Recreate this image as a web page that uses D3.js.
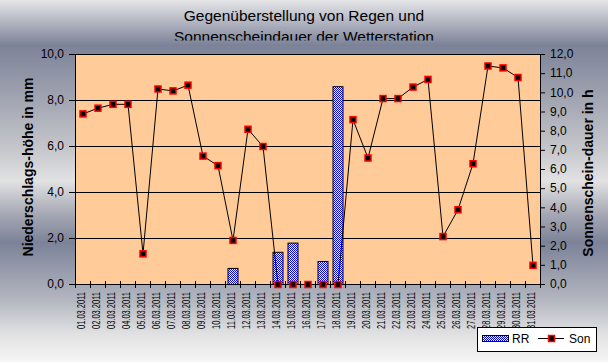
<!DOCTYPE html>
<html>
<head>
<meta charset="utf-8">
<script src="https://cdn.jsdelivr.net/npm/d3@7"></script>
<style>
  body { margin: 0; }
  svg { display: block; font-family: Arial, "Liberation Sans", sans-serif; }
</style>
</head>
<body>
<svg id="chart" width="608" height="362"></svg>
<script>
"use strict";

const dates = [
    "01.03.2011", "02.03.2011", "03.03.2011", "04.03.2011", "05.03.2011",
    "06.03.2011", "07.03.2011", "08.03.2011", "09.03.2011", "10.03.2011",
    "11.03.2011", "12.03.2011", "13.03.2011", "14.03.2011", "15.03.2011",
    "16.03.2011", "17.03.2011", "18.03.2011", "19.03.2011", "20.03.2011",
    "21.03.2011", "22.03.2011", "23.03.2011", "24.03.2011", "25.03.2011",
    "26.03.2011", "27.03.2011", "28.03.2011", "29.03.2011", "30.03.2011",
    "31.03.2011"
];

// Niederschlag (mm)
const rr = [0, 0, 0, 0, 0, 0, 0, 0, 0, 0, 0.7, 0, 0, 1.4, 1.8, 0, 1.0, 8.6,
    0, 0, 0, 0, 0, 0, 0, 0, 0, 0, 0, 0, 0];

// Sonnenscheindauer (h)
const son = [8.9, 9.2, 9.4, 9.4, 1.6, 10.2, 10.1, 10.4, 6.7, 6.2, 2.3, 8.1, 7.2,
    0, 0, 0, 0, 0, 8.6, 6.6, 9.7, 9.7, 10.3, 10.7, 2.5, 3.9, 6.3, 11.4, 11.3, 10.8, 1.0];

const leftTicks = [0, 2, 4, 6, 8, 10];
const rightTicks = [0, 1, 2, 3, 4, 5, 6, 7, 8, 9, 10, 11, 12];

const titleLines = ["Gegenüberstellung von Regen und", "Sonnenscheindauer der Wetterstation"];
const legendNames = ["RR", "Son"];

const plot = {left: 75, right: 540, top: 54, bottom: 284};

const svg = d3.select("#chart");
const defs = svg.append("defs");

// background gradient
const grad = defs.append("linearGradient")
    .attr("id", "bg")
    .attr("x1", 0).attr("y1", 0).attr("x2", 0).attr("y2", 1);
[
    [0, "#e6e6e8"], [0.125, "#7c8298"], [0.3, "#a8abb6"], [0.42, "#c8c9cd"],
    [0.5, "#e2e2e3"], [0.59, "#a6a9b4"], [0.67, "#7c8298"], [0.83, "#b4b7c0"],
    [0.92, "#e0e0e2"], [1, "#f6f6f6"]
].forEach(function(s) {
    grad.append("stop").attr("offset", s[0]).attr("stop-color", s[1]);
});

// checkered bar pattern
const pat = defs.append("pattern")
    .attr("id", "checker")
    .attr("width", 2).attr("height", 2)
    .attr("patternUnits", "userSpaceOnUse");
pat.append("rect").attr("width", 2).attr("height", 2).attr("fill", "#ffffff");
pat.append("rect").attr("width", 1).attr("height", 1).attr("fill", "#0000ff");
pat.append("rect").attr("x", 1).attr("y", 1).attr("width", 1).attr("height", 1).attr("fill", "#0000ff");

defs.append("clipPath").attr("id", "titleClip")
    .append("rect").attr("x", 0).attr("y", 0).attr("width", 608).attr("height", 40.5);

svg.append("rect")
    .attr("width", 608).attr("height", 362)
    .attr("fill", "url(#bg)");

// scales
const x = d3.scaleBand()
    .domain(dates)
    .range([plot.left, plot.right])
    .paddingInner(1 / 3)
    .paddingOuter(1 / 6);

const yL = d3.scaleLinear().domain([0, 10]).range([plot.bottom, plot.top]);
const yR = d3.scaleLinear().domain([0, 12]).range([plot.bottom, plot.top]);

const fmt = function(v) { return d3.format(".1f")(v).replace(".", ","); };

// plot area
svg.append("rect")
    .attr("x", plot.left).attr("y", plot.top)
    .attr("width", plot.right - plot.left).attr("height", plot.bottom - plot.top)
    .attr("fill", "#ffcc99");

// gridlines
svg.append("g")
    .selectAll("line")
    .data(leftTicks.filter(function(d) { return d > 0 && d < 10; }))
    .enter().append("line")
    .attr("x1", plot.left).attr("x2", plot.right)
    .attr("y1", function(d) { return yL(d) + 0.5; })
    .attr("y2", function(d) { return yL(d) + 0.5; })
    .attr("stroke", "#000").attr("stroke-width", 1);

// bars
svg.append("g")
    .selectAll("rect")
    .data(dates.map(function(d, i) { return {date: d, v: rr[i]}; }).filter(function(d) { return d.v > 0; }))
    .enter().append("rect")
    .attr("x", function(d) { return x(d.date) + 0.5; })
    .attr("y", function(d) { return yL(d.v) + 0.5; })
    .attr("width", x.bandwidth())
    .attr("height", function(d) { return yL(0) - yL(d.v); })
    .attr("fill", "url(#checker)")
    .attr("stroke", "#000").attr("stroke-width", 1);

// plot border
svg.append("rect")
    .attr("x", plot.left + 0.5).attr("y", plot.top + 0.5)
    .attr("width", plot.right - plot.left).attr("height", plot.bottom - plot.top)
    .attr("fill", "none").attr("stroke", "#000");

// left axis
const gL = svg.append("g").attr("font-size", 12);
leftTicks.forEach(function(t) {
    gL.append("line")
        .attr("x1", plot.left - 6).attr("x2", plot.left)
        .attr("y1", yL(t) + 0.5).attr("y2", yL(t) + 0.5)
        .attr("stroke", "#000");
    gL.append("text")
        .attr("x", 64).attr("y", yL(t)).attr("dy", "0.36em")
        .attr("text-anchor", "end")
        .text(fmt(t));
});

// right axis
const gR = svg.append("g").attr("font-size", 12);
rightTicks.forEach(function(t) {
    gR.append("line")
        .attr("x1", plot.right).attr("x2", plot.right + 5)
        .attr("y1", yR(t) + 0.5).attr("y2", yR(t) + 0.5)
        .attr("stroke", "#000");
    gR.append("text")
        .attr("x", 550).attr("y", yR(t)).attr("dy", "0.36em")
        .text(fmt(t));
});

// x axis ticks (crossing, at category boundaries)
const step = x.step();
svg.append("g")
    .selectAll("line")
    .data(d3.range(dates.length + 1))
    .enter().append("line")
    .attr("x1", function(i) { return plot.left + i * step + 0.5; })
    .attr("x2", function(i) { return plot.left + i * step + 0.5; })
    .attr("y1", plot.bottom - 3).attr("y2", plot.bottom + 4)
    .attr("stroke", "#000");

// x labels
svg.append("g")
    .selectAll("text")
    .data(dates)
    .enter().append("text")
    .attr("transform", function(d) {
        return "translate(" + (x(d) + x.bandwidth() / 2 + 2.5) + "," + 292 + ") rotate(-90)";
    })
    .attr("text-anchor", "end")
    .attr("font-size", 10.5)
    .attr("textLength", 37)
    .attr("lengthAdjust", "spacingAndGlyphs")
    .text(function(d) { return d; });

// sunshine line
const line = d3.line()
    .x(function(d, i) { return x(dates[i]) + x.bandwidth() / 2 + 0.5; })
    .y(function(d) { return yR(d) + 0.5; });

svg.append("path")
    .datum(son)
    .attr("d", line)
    .attr("fill", "none")
    .attr("stroke", "#000")
    .attr("stroke-width", 1);

svg.append("g")
    .selectAll("rect")
    .data(son)
    .enter().append("rect")
    .attr("x", function(d, i) { return x(dates[i]) + x.bandwidth() / 2 - 2.5; })
    .attr("y", function(d) { return yR(d) - 2.5; })
    .attr("width", 6).attr("height", 6)
    .attr("fill", "#000")
    .attr("stroke", "#ff0000").attr("stroke-width", 1.5);

// axis titles
svg.append("text")
    .attr("transform", "translate(28," + 167 + ") rotate(-90)")
    .attr("text-anchor", "middle")
    .attr("dy", "0.35em")
    .attr("font-size", 14).attr("font-weight", "bold")
    .text("Niederschlags-höhe in mm");

svg.append("text")
    .attr("transform", "translate(588," + 173 + ") rotate(-90)")
    .attr("text-anchor", "middle")
    .attr("dy", "0.35em")
    .attr("font-size", 14).attr("font-weight", "bold")
    .text("Sonnenschein-dauer in h");

// title
svg.append("g")
    .attr("clip-path", "url(#titleClip)")
    .selectAll("text")
    .data(titleLines)
    .enter().append("text")
    .attr("x", 304)
    .attr("y", function(d, i) { return 21 + i * 21; })
    .attr("text-anchor", "middle")
    .attr("font-size", 15.5)
    .text(function(d) { return d; });

// legend
const lg = svg.append("g").attr("font-size", 12);
lg.append("rect")
    .attr("x", 477.5).attr("y", 327.5).attr("width", 119).attr("height", 24)
    .attr("fill", "#fff").attr("stroke", "#000");
lg.append("rect")
    .attr("x", 482.5).attr("y", 335.5).attr("width", 26).attr("height", 6)
    .attr("fill", "url(#checker)").attr("stroke", "#000");
lg.append("text").attr("x", 512).attr("y", 343).text(legendNames[0]);
lg.append("line")
    .attr("x1", 538).attr("x2", 564).attr("y1", 338.5).attr("y2", 338.5)
    .attr("stroke", "#000");
lg.append("rect")
    .attr("x", 548.5).attr("y", 335.5).attr("width", 6).attr("height", 6)
    .attr("fill", "#000").attr("stroke", "#ff0000").attr("stroke-width", 1.5);
lg.append("text").attr("x", 569).attr("y", 343).text(legendNames[1]);
</script>
</body>
</html>
